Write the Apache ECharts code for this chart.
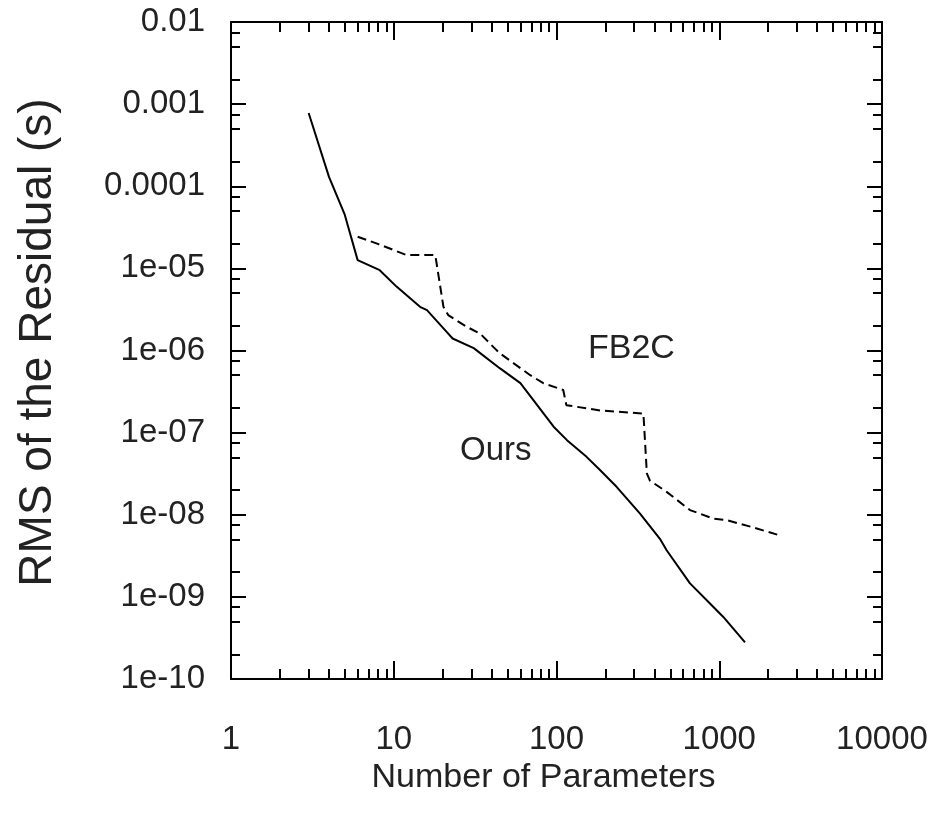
<!DOCTYPE html>
<html>
<head>
<meta charset="utf-8">
<script src="https://cdn.jsdelivr.net/npm/echarts@6/dist/echarts.min.js"></script>
<style>
  html, body { margin: 0; padding: 0; background: #fff; }
  #chart { width: 949px; height: 821px; }
</style>
</head>
<body>
<div id="chart"></div>
<script>
// values
const oursN = [3, 4, 5, 6, 8.2, 10.4, 14.5, 16, 20.6, 23, 31, 45, 60, 96, 116, 153, 185, 234, 326, 432, 475, 661, 877, 1059, 1440];
const oursRMS = [7.8e-4, 1.3e-4, 4.5e-5, 1.26e-5, 9.5e-6, 6.0e-6, 3.4e-6, 3.1e-6, 1.78e-6, 1.4e-6, 1.07e-6, 6.05e-7, 4.0e-7, 1.18e-7, 8.1e-8, 5.07e-8, 3.5e-8, 2.19e-8, 1.03e-8, 5.1e-9, 3.7e-9, 1.46e-9, 8.3e-10, 5.7e-10, 2.8e-10];

const fb2cN = [6, 7.9, 10, 12, 18, 20.2, 21.6, 28, 34, 41, 45, 69, 83, 110, 115, 185, 342, 359, 375, 475, 661, 918, 1111, 1620, 2363];
const fb2cRMS = [2.43e-5, 2.0e-5, 1.67e-5, 1.45e-5, 1.45e-5, 3.4e-6, 2.7e-6, 1.95e-6, 1.6e-6, 1.1e-6, 9.2e-7, 5.0e-7, 4.0e-7, 3.3e-7, 2.16e-7, 1.86e-7, 1.71e-7, 3.2e-8, 2.6e-8, 1.9e-8, 1.14e-8, 9.0e-9, 8.6e-9, 7.0e-9, 5.6e-9];

const xTickLabels = ["1", "10", "100", "1000", "10000"];
const yTickLabels = ["1e-10", "1e-09", "1e-08", "1e-07", "1e-06", "1e-05", "0.0001", "0.001", "0.01"];

// tick positions (in decades) for the tick-only overlay axes
const xMajor = [0, 1, 2, 3, 4];
const yMajor = [-10, -9, -8, -7, -6, -5, -4, -3, -2];
const xMinor = [];
for (let d = 0; d < 4; d++) for (let k = 2; k <= 9; k++) xMinor.push(d + Math.log10(k));
const yMinor = [];
for (let d = -10; d < -2; d++) [2, 5, 7.5].forEach(k => yMinor.push(d + Math.log10(k)));

const FONT = "Liberation Sans";
const INK = "#000";
const TXT = "#222";

const chart = echarts.init(document.getElementById("chart"));

const lineStyle = { color: INK, width: 2 };

function logX(pos, showLabel) {
	return {
		type: "log", logBase: 10, min: 1, max: 10000, position: pos,
		axisLine: { show: true, onZero: false, lineStyle: lineStyle },
		axisTick: { show: false },
		axisLabel: {
			show: showLabel, margin: 44, color: TXT, fontSize: 33, fontFamily: FONT,
			formatter: v => xTickLabels[Math.round(Math.log10(v))]
		},
		splitLine: { show: false }, minorTick: { show: false }
	};
}
function tickX(pos, values, len) {
	return {
		type: "value", min: 0, max: 4, position: pos,
		axisLine: { show: false, onZero: false },
		axisTick: { show: true, inside: true, length: len, lineStyle: lineStyle, customValues: values },
		axisLabel: { show: false }, splitLine: { show: false }
	};
}
function logY(pos, showLabel) {
	return {
		type: "log", logBase: 10, min: 1e-10, max: 0.01, position: pos,
		axisLine: { show: true, onZero: false, lineStyle: lineStyle },
		axisTick: { show: false },
		axisLabel: {
			show: showLabel, margin: 26, color: TXT, fontSize: 33, fontFamily: FONT,
			formatter: v => yTickLabels[Math.round(Math.log10(v)) + 10]
		},
		splitLine: { show: false }, minorTick: { show: false }
	};
}
function tickY(pos, values, len) {
	return {
		type: "value", min: -10, max: -2, position: pos,
		axisLine: { show: false, onZero: false },
		axisTick: { show: true, inside: true, length: len, lineStyle: lineStyle, customValues: values },
		axisLabel: { show: false }, splitLine: { show: false }
	};
}

const xMain = logX("bottom", true);
xMain.name = "Number of Parameters";
xMain.nameLocation = "middle";
xMain.nameGap = 76;
xMain.nameTextStyle = { color: TXT, fontSize: 34, fontFamily: FONT, padding: [0, 26, 0, 0] };

const yMain = logY("left", true);
yMain.name = "RMS of the Residual (s)";
yMain.nameLocation = "middle";
yMain.nameGap = 170;
yMain.nameTextStyle = { color: TXT, fontSize: 46, fontFamily: FONT, padding: [0, 0, 0, 16] };

const option = {
	animation: false,
	backgroundColor: "#fff",
	textStyle: { fontFamily: FONT },
	grid: { left: 231, right: 67, top: 22, bottom: 142, containLabel: false, outerBoundsMode: "none" },
	xAxis: [
		xMain, logX("top", false),
		tickX("bottom", xMajor, 18), tickX("top", xMajor, 18),
		tickX("bottom", xMinor, 10), tickX("top", xMinor, 10)
	],
	yAxis: [
		yMain, logY("right", false),
		tickY("left", yMajor, 15), tickY("right", yMajor, 15),
		tickY("left", yMinor, 9), tickY("right", yMinor, 9)
	],
	graphic: [
		{ type: "text", left: 588, top: 332, style: { text: "FB2C", fontSize: 34, fontFamily: FONT, fill: TXT } },
		{ type: "text", left: 460, top: 434, style: { text: "Ours", fontSize: 33, fontFamily: FONT, fill: TXT } }
	],
	series: [
		{
			name: "Ours", type: "line", xAxisIndex: 0, yAxisIndex: 0,
			data: oursN.map((n, i) => [n, oursRMS[i]]),
			showSymbol: false, symbol: "none",
			lineStyle: { color: INK, width: 2 }
		},
		{
			name: "FB2C", type: "line", xAxisIndex: 0, yAxisIndex: 0,
			data: fb2cN.map((n, i) => [n, fb2cRMS[i]]),
			showSymbol: false, symbol: "none",
			lineStyle: { color: INK, width: 2, type: [9, 5] }
		}
	]
};

chart.setOption(option);
window.onresize = chart.resize;
</script>
</body>
</html>
